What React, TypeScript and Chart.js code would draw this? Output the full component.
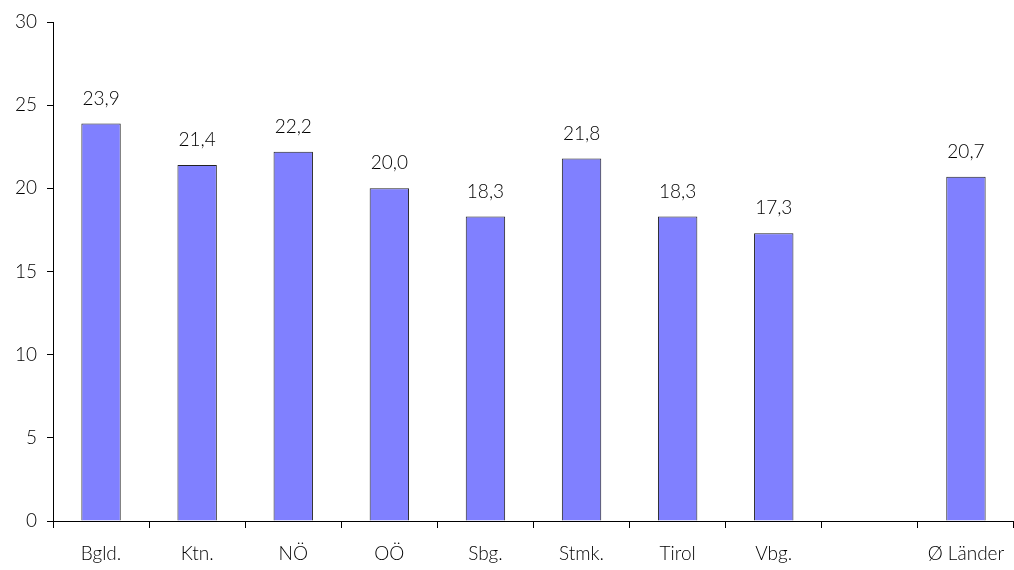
import React, { useEffect, useRef } from "react";
import { Chart, registerables } from "chart.js";

Chart.register(...registerables);

const categories = ["Bgld.", "Ktn.", "NÖ", "OÖ", "Sbg.", "Stmk.", "Tirol", "Vbg.", "", "Ø Länder"];
const values: (number | null)[] = [23.9, 21.4, 22.2, 20.0, 18.3, 21.8, 18.3, 17.3, null, 20.7];
const yTicks = [0, 5, 10, 15, 20, 25, 30];

const FONT = "Lato, 'DejaVu Sans', sans-serif";
const WEIGHT = 300;

const valueLabels = {
  id: "valueLabels",
  afterDatasetsDraw(chart: any) {
    const { ctx } = chart;
    const meta = chart.getDatasetMeta(0);
    ctx.save();
    ctx.font = `${WEIGHT} 19px ${FONT}`;
    ctx.fillStyle = "#000";
    ctx.textAlign = "center";
    ctx.textBaseline = "middle";
    meta.data.forEach((bar: any, i: number) => {
      const v = values[i];
      if (v === null || v === undefined) return;
      ctx.fillText(v.toFixed(1).replace(".", ","), bar.x, bar.y - 25);
    });
    ctx.restore();
  },
};

export default function App() {
  const canvasRef = useRef<HTMLCanvasElement | null>(null);

  useEffect(() => {
    document.body.style.margin = "0";
    const canvas = canvasRef.current;
    if (!canvas) return;
    const chart = new Chart(canvas, {
      type: "bar",
      data: {
        labels: categories,
        datasets: [
          {
            data: values,
            backgroundColor: "#8080FF",
            borderColor: "#222222",
            borderWidth: 1,
            categoryPercentage: 1,
            barPercentage: 0.41,
          },
        ],
      },
      options: {
        animation: false,
        responsive: false,
        maintainAspectRatio: false,
        layout: { padding: { top: 22, right: 0, bottom: 0, left: 0 } },
        plugins: {
          legend: { display: false },
          tooltip: { enabled: false },
        },
        scales: {
          x: {
            offset: true,
            grid: {
              offset: true,
              drawOnChartArea: false,
              drawTicks: true,
              tickLength: 7,
              color: "#000",
            },
            border: { display: true, color: "#000", width: 1 },
            ticks: {
              color: "#000",
              font: { family: FONT, size: 19, weight: WEIGHT },
              padding: 14,
              maxRotation: 0,
              autoSkip: false,
            },
            afterFit(scale: any) {
              scale.height = 49;
              scale.paddingLeft = 0;
              scale.paddingRight = 0;
            },
          },
          y: {
            min: 0,
            max: 30,
            afterBuildTicks(scale: any) {
              scale.ticks = yTicks.map((v) => ({ value: v }));
            },
            grid: {
              drawOnChartArea: false,
              drawTicks: true,
              tickLength: 6,
              color: "#000",
            },
            border: { display: true, color: "#000", width: 1 },
            ticks: {
              color: "#000",
              font: { family: FONT, size: 19, weight: WEIGHT },
              padding: 10,
            },
            afterFit(scale: any) {
              scale.width = 53;
            },
          },
        },
      },
      plugins: [valueLabels],
    });
    return () => chart.destroy();
  }, []);

  return (
    <div style={{ width: 1014, height: 570 }}>
      <canvas ref={canvasRef} width={1014} height={570} />
    </div>
  );
}
